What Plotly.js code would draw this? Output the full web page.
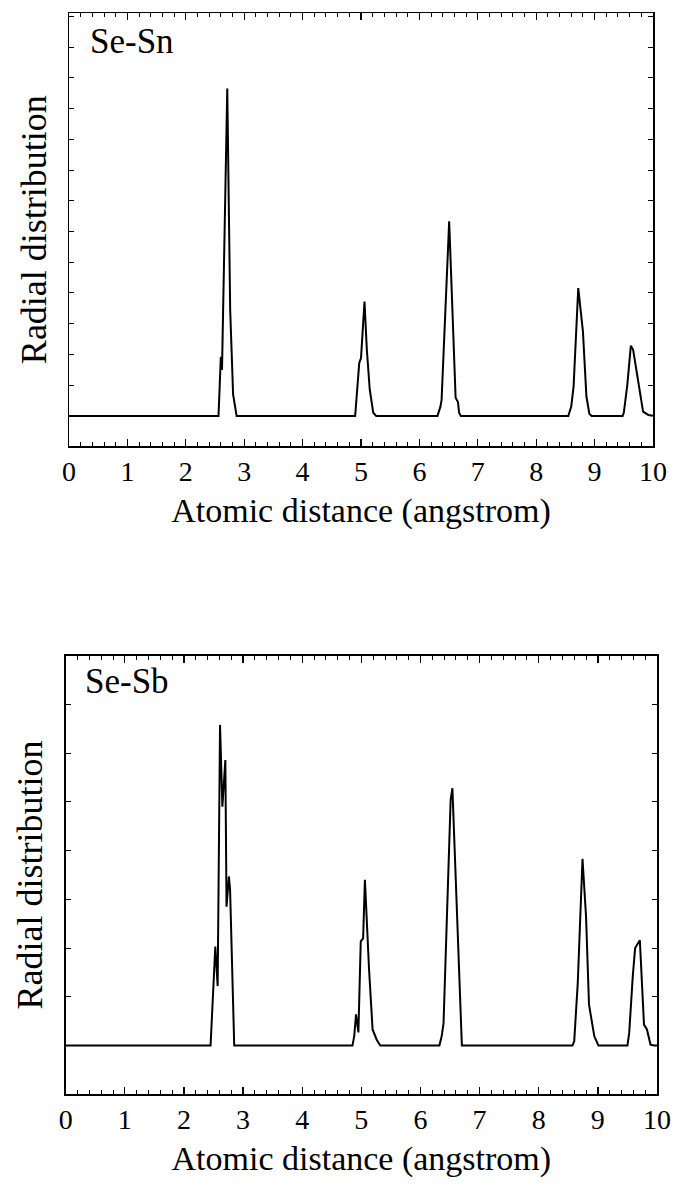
<!DOCTYPE html>
<html>
<head>
<meta charset="utf-8">
<script src="https://cdn.plot.ly/plotly-3.0.1.min.js"></script>
<style>html,body{margin:0;padding:0;background:#fff;}#chart{width:674px;height:1190px;}</style>
</head>
<body>
<div id="chart"></div>
<script>
// Se-Sn radial distribution (arbitrary units)
const snX = [0, 2.56, 2.60, 2.62, 2.71, 2.76, 2.81, 2.87,
  4.90, 4.97, 5.00, 5.06, 5.10, 5.15, 5.21, 5.26,
  6.31, 6.36, 6.38, 6.51, 6.62, 6.66, 6.68, 6.71,
  8.55, 8.60, 8.64, 8.72, 8.80, 8.86, 8.91, 8.95,
  9.48, 9.50, 9.56, 9.62, 9.66, 9.75, 9.83, 9.92, 9.97, 10];
const snY = [0, 0, 1.92, 1.5, 10.65, 3.45, 0.7, 0,
  0, 1.72, 1.88, 3.72, 2.15, 0.85, 0.1, 0,
  0, 0.3, 0.52, 6.33, 0.59, 0.45, 0.1, 0,
  0, 0.3, 0.95, 4.16, 2.75, 0.63, 0.07, 0,
  0, 0.1, 1.0, 2.28, 2.15, 1.09, 0.14, 0.03, 0, 0];

// Se-Sb radial distribution (arbitrary units)
const sbX = [0, 2.45, 2.53, 2.57, 2.61, 2.65, 2.70, 2.72, 2.76, 2.78, 2.85,
  4.85, 4.88, 4.91, 4.95, 4.99, 5.03, 5.06, 5.13, 5.19, 5.26, 5.32,
  6.32, 6.36, 6.39, 6.51, 6.54, 6.70,
  8.57, 8.60, 8.66, 8.74, 8.80, 8.85, 8.94, 9.01,
  9.50, 9.53, 9.59, 9.63, 9.71, 9.78, 9.83, 9.89, 9.95, 10];
const sbY = [0, 0, 2.03, 1.22, 6.58, 4.9, 5.86, 2.85, 3.47, 3.2, 0,
  0, 0.2, 0.64, 0.27, 2.14, 2.2, 3.4, 1.57, 0.33, 0.12, 0,
  0, 0.2, 0.46, 5.04, 5.28, 0,
  0, 0.09, 1.29, 3.83, 2.65, 0.84, 0.19, 0,
  0, 0.26, 1.42, 2.0, 2.16, 0.43, 0.33, 0.02, 0, 0];

const xTickVals = [0,1,2,3,4,5,6,7,8,9,10];
const xTickText = ['0','1','2','3','4','5','6','7','8','9','10'];
const panelLabels = ['Se-Sn', 'Se-Sb'];
const xTitle = 'Atomic distance (angstrom)';
const yTitle = 'Radial distribution';

const FONT = "'Liberation Serif', 'Times New Roman', Times, serif";

const traces = [
  {x: snX, y: snY, xaxis: 'x', yaxis: 'y', mode: 'lines', line: {color: '#000', width: 2}, hoverinfo: 'skip'},
  {x: sbX, y: sbY, xaxis: 'x2', yaxis: 'y2', mode: 'lines', line: {color: '#000', width: 2}, hoverinfo: 'skip'}
];

function xAxis(domain, anchor) {
  return {
    domain: domain, anchor: anchor, range: [0, 10],
    tickmode: 'array', tickvals: xTickVals, ticktext: xTickText,
    ticks: 'inside', ticklen: 7, tickwidth: 1.3, tickcolor: '#000',
    minor: {dtick: 0.2, ticks: 'inside', ticklen: 4, tickwidth: 1, tickcolor: '#000', showgrid: false},
    showline: true, linecolor: '#000', linewidth: 1.5, mirror: 'allticks',
    showgrid: false, zeroline: false, automargin: false,
    tickfont: {family: FONT, size: 28, color: '#000'},
    title: {text: xTitle, font: {family: FONT, size: 34, color: '#000'}, standoff: 12}
  };
}
function yAxis(domain, anchor, range) {
  return {
    domain: domain, anchor: anchor, range: range,
    dtick: 1, tick0: 0, ticks: 'inside', ticklen: 5, tickwidth: 1, tickcolor: '#000',
    showticklabels: false,
    showline: true, linecolor: '#000', linewidth: 1.5, mirror: 'allticks',
    showgrid: false, zeroline: false, automargin: false,
    title: {text: yTitle, font: {family: FONT, size: 36, color: '#000'}, standoff: 10}
  };
}

const layout = {
  width: 674, height: 1190,
  margin: {l: 0, r: 0, t: 0, b: 0},
  paper_bgcolor: '#fff', plot_bgcolor: '#fff',
  showlegend: false,
  font: {family: FONT, color: '#000'},
  xaxis: xAxis([69/674, 653/674], 'y'),
  yaxis: yAxis([1 - 446/1190, 1 - 13.3/1190], 'x', [-0.98, 13.1]),
  xaxis2: xAxis([65.7/674, 657/674], 'y2'),
  yaxis2: yAxis([1 - 1094.3/1190, 1 - 655.7/1190], 'x2', [-1, 8]),
  annotations: [
    {text: panelLabels[0], xref: 'x domain', yref: 'y domain', x: 0.0325, y: 0.934, xanchor: 'left', yanchor: 'middle', showarrow: false, font: {family: FONT, size: 35, color: '#000'}},
    {text: panelLabels[1], xref: 'x2 domain', yref: 'y2 domain', x: 0.0288, y: 0.942, xanchor: 'left', yanchor: 'middle', showarrow: false, font: {family: FONT, size: 35, color: '#000'}}
  ]
};

Plotly.newPlot('chart', traces, layout, {staticPlot: true, displayModeBar: false});
</script>
</body>
</html>
